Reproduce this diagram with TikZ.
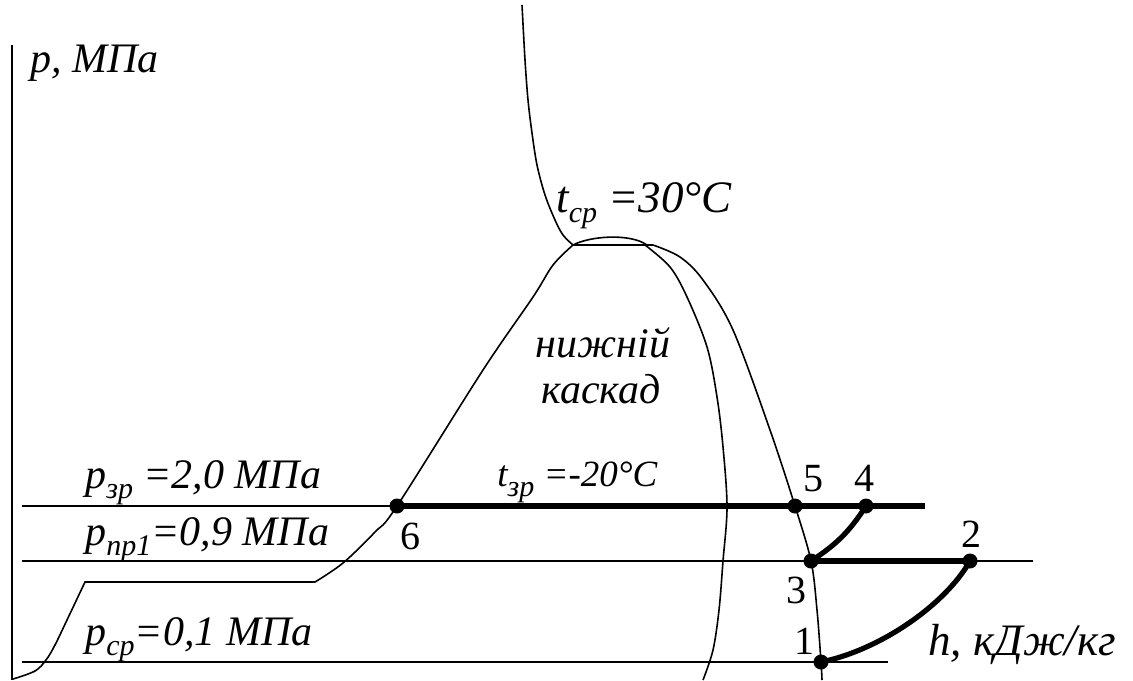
\documentclass[tikz,border=0pt]{standalone}
\usepackage{fontspec}
\setmainfont{Liberation Serif}
\newcommand{\lowidx}[1]{\raisebox{-5pt}{\fontsize{15}{17}\selectfont #1}}

\begin{document}
\begin{tikzpicture}[x=0.5pt,y=-0.5pt,
  thinln/.style={line width=0.8pt},
  cycln/.style={line width=2.6pt},
  dot/.style={circle,fill,inner sep=0pt,minimum size=7.5pt},
  lbl/.style={font=\itshape\fontsize{21}{24}\selectfont,inner sep=0pt,anchor=base west},
  num/.style={font=\fontsize{20}{23}\selectfont,inner sep=0pt,anchor=base}
]
\useasboundingbox (0,0) rectangle (1133,680);
\coordinate (axT) at (12,45);
\coordinate (axB) at (12,680);
\coordinate (zrL) at (22,506);
\coordinate (zrR) at (925,506);
\coordinate (prL) at (22,561);
\coordinate (prR) at (1033,561);
\coordinate (srL) at (22,662);
\coordinate (srR) at (888,662);
\coordinate (crit) at (573,245);
\coordinate (topR) at (653,245);
\node[dot] (p6) at (397,506) {};
\node[dot] (p5) at (795,506) {};
\node[dot] (p4) at (866,506) {};
\node[dot] (p3) at (811,561) {};
\node[dot] (p2) at (970,561) {};
\node[dot] (p1) at (821,662) {};
\draw[thinln] (axT) -- (axB);
\draw[thinln] (zrL) -- (p6.center);
\draw[thinln] (prL) -- (prR);
\draw[thinln] (srL) -- (srR);
\draw[cycln] (p6.center) -- (p5.center) -- (p4.center) -- (zrR);
\draw[cycln] (p3.center) -- (p2.center);
\draw[cycln] (p3.center) to[bend right=12] (p4.center);
\draw[cycln] (p1.center) .. controls (880,650) and (945,605) .. (p2.center);
\draw[thinln] plot[smooth,tension=0.55] coordinates {(13,679) (35,671) (46,660) (55,645) (67,620) (85,582)}
  -- (315,582)
  plot[smooth,tension=0.55] coordinates {(315,582) (343,563) (375,532) (p6.center) (483,370) (533,297) (553,265) (crit)};
\draw[thinln] plot[smooth,tension=0.55] coordinates {(522,5) (525,60) (528,100) (532,133) (537,165) (545,195) (555,220) (563,235) (crit)};
\draw[thinln] (crit) .. controls (590,236) and (630,233) .. (647,245);
\draw[thinln] (crit) -- (topR);
\draw[thinln] plot[smooth,tension=0.55] coordinates {(645,245) (670,267) (687,297) (707,347) (717,397) (723,447) (727,507) (723,561) (719,610) (713,650) (703,680)};
\draw[thinln] plot[smooth,tension=0.55] coordinates {(topR) (680,257) (703,280) (733,330) (770,430) (p5.center) (p3.center) (817,610) (p1.center) (822,680)};
\node[lbl] (pax) at (30,72) {p, МПа};
\node[lbl,font=\itshape\fontsize{22.5}{26}\selectfont] (tcr) at (556,212) {t\lowidx{ср} =30°C};
\node[lbl,anchor=base] (niz) at (603,357) {нижній};
\node[lbl,anchor=base] (kas) at (601,403) {каскад};
\node[lbl] (pzr) at (85,488) {p\lowidx{зр} =2,0 МПа};
\node[lbl,font=\itshape\fontsize{18.5}{21}\selectfont] (tzr) at (497,486) {t\lowidx{зр} =-20°C};
\node[lbl] (ppr) at (85,545) {p\lowidx{пр1}=0,9 МПа};
\node[lbl] (pcr) at (85,645) {p\lowidx{ср}=0,1 МПа};
\node[lbl,font=\itshape\fontsize{22.5}{25}\selectfont] (hax) at (928,655) {h, кДж/кг};
\node[num] (n5) at (813,491) {5};
\node[num] (n4) at (864,491) {4};
\node[num] (n2) at (971,547) {2};
\node[num] (n3) at (796,603) {3};
\node[num] (n1) at (804,654) {1};
\node[num] (n6) at (410,549) {6};
\end{tikzpicture}
\end{document}
